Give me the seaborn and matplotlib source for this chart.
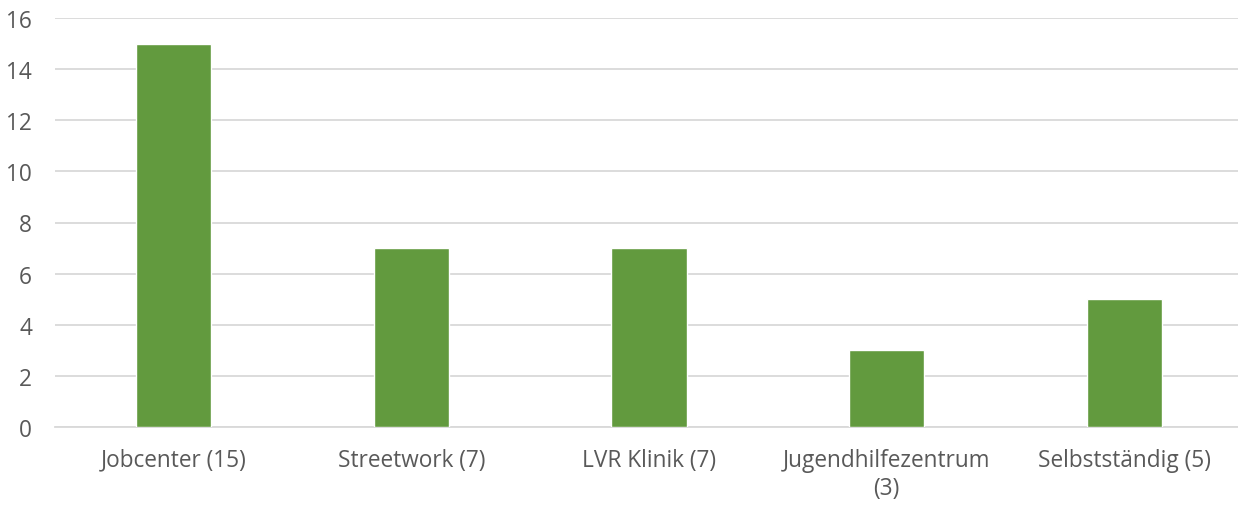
import matplotlib
matplotlib.use("Agg")
import matplotlib.pyplot as plt
import seaborn as sns
import pandas as pd

categories = ["Jobcenter (15)", "Streetwork (7)", "LVR Klinik (7)",
              "Jugendhilfezentrum\n(3)", "Selbstständig (5)"]
counts = [15, 7, 7, 3, 5]
y_ticks = [0, 2, 4, 6, 8, 10, 12, 14, 16]

sns.set_theme(style="white")
plt.rcParams["font.family"] = ["Open Sans", "DejaVu Sans"]

df = pd.DataFrame({"Kategorie": categories, "Anzahl": counts})

fig = plt.figure(figsize=(12.38, 5.06), dpi=100)
ax = fig.add_axes([55 / 1238, 78 / 506, 1188 / 1238, 409 / 506])

sns.barplot(data=df, x="Kategorie", y="Anzahl", color="#629A3E",
            width=0.316, saturation=1, ax=ax, zorder=3)

ax.set_ylim(0, 16)
ax.set_xlim(-0.5, len(categories) - 0.5)
ax.set_yticks(y_ticks)
ax.yaxis.grid(True, color="#D9D9D9", linewidth=1.3, zorder=0)
ax.set_axisbelow(True)
for side in ["top", "right", "left"]:
    ax.spines[side].set_visible(False)
ax.spines["bottom"].set_color("#D9D9D9")
ax.spines["bottom"].set_linewidth(1.3)
ax.set_xlabel("")
ax.set_ylabel("")
ax.tick_params(axis="both", length=0, labelsize=16.3, colors="#595959")
ax.tick_params(axis="y", pad=16.5)
ax.tick_params(axis="x", pad=15)
for lbl in ax.get_yticklabels():
    lbl.set_horizontalalignment("right")
for lbl in ax.get_xticklabels():
    lbl.set_linespacing(1.25)

fig.savefig("out.png", dpi=100)
